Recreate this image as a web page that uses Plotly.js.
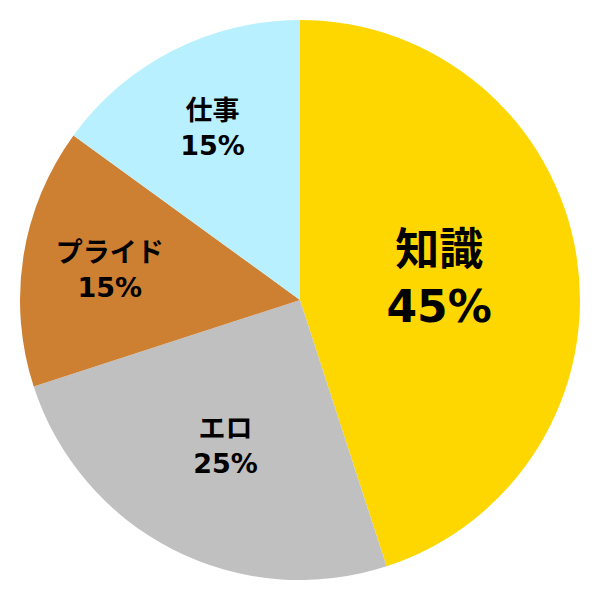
<!DOCTYPE html>
<html>
<head>
<meta charset="utf-8">
<script src="https://cdn.plot.ly/plotly-3.0.1.min.js"></script>
<style>
  html, body { margin: 0; padding: 0; background: #fff; }
  #chart { width: 600px; height: 600px; }
</style>
</head>
<body>
<div id="chart"></div>
<script>
// slices, clockwise from 12 o'clock
const labels = ['知識', 'エロ', 'プライド', '仕事'];
const values = [45, 25, 15, 15];
const colors = ['#FFD700', '#C0C0C0', '#CD7F32', '#B9F0FF'];
const textSizes = [44, 27, 27, 27];

const trace = {
    type: 'pie',
    labels: labels,
    values: values,
    sort: false,
    direction: 'clockwise',
    rotation: 0,
    marker: { colors: colors, line: { width: 0 } },
    textinfo: 'label+percent',
    textposition: 'inside',
    insidetextorientation: 'horizontal',
    textfont: {
        family: 'DejaVu Sans, Noto Sans CJK JP, sans-serif',
        size: textSizes,
        color: '#000',
        weight: 'bold'
    },
    hoverinfo: 'none'
};

const layout = {
    width: 600,
    height: 600,
    margin: { l: 20, r: 20, t: 20, b: 20 },
    showlegend: false,
    paper_bgcolor: '#fff'
};

Plotly.newPlot('chart', [trace], layout, { staticPlot: true });
</script>
</body>
</html>
